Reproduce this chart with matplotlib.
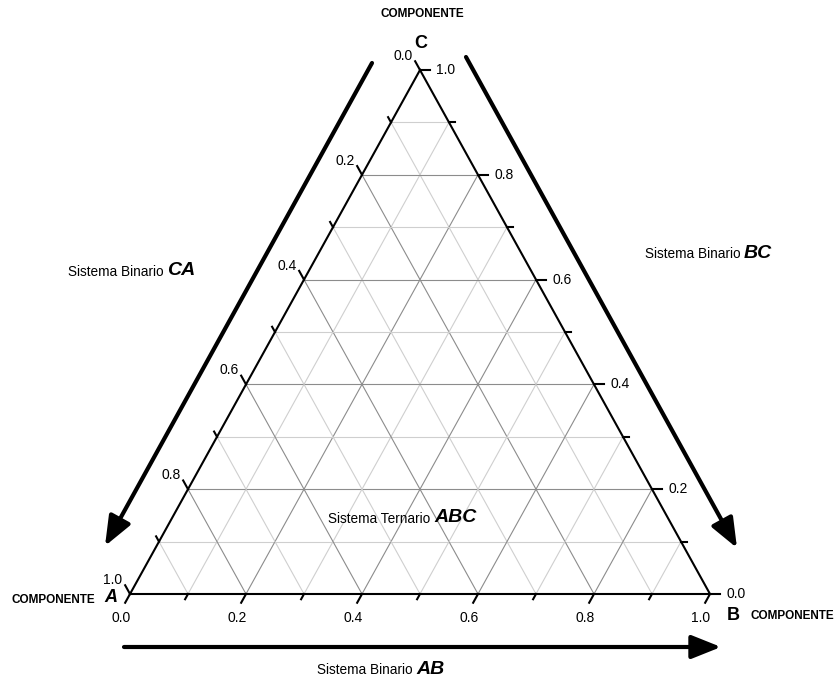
import numpy as np
import matplotlib
matplotlib.use("Agg")
import matplotlib.pyplot as plt

plt.rcParams['font.family'] = ['Liberation Sans', 'DejaVu Sans']

# ---- data ----
tick_values = [0.0, 0.1, 0.2, 0.3, 0.4, 0.5, 0.6, 0.7, 0.8, 0.9, 1.0]
major_values = [0.0, 0.2, 0.4, 0.6, 0.8, 1.0]
major_labels = ['0.0', '0.2', '0.4', '0.6', '0.8', '1.0']
grid_values = [0.1, 0.2, 0.3, 0.4, 0.5, 0.6, 0.7, 0.8, 0.9]
vertex_names = ['A', 'B', 'C']
component_word = 'COMPONENTE'
binary_word = 'Sistema Binario'
ternary_word = 'Sistema Ternario'
system_names = ['CA', 'BC', 'AB', 'ABC']

W, H = 838, 683
fig = plt.figure(figsize=(W / 100, H / 100), dpi=100)
# triangle pixel frame: A=(130,594) B=(710,594) C=(420,70)
x0, x1, yb, yt = 130, 710, 594, 70
ax = fig.add_axes([x0 / W, (H - yb) / H, (x1 - x0) / W, (yb - yt) / H])
ax.set_xlim(0, 1)
ax.set_ylim(0, 1)
ax.axis('off')

sx, sy = x1 - x0, yb - yt
edge_px = np.hypot(0.5 * sx, sy)


def tern(a, b, c):
    return b + c / 2.0, c


def is_major(t):
    return any(abs(t - m) < 1e-9 for m in major_values)


# grid
for t in grid_values:
    col = '#8c8c8c' if is_major(t) else '#cfcfcf'
    # constant B
    p = [tern(1 - t, t, 0), tern(0, t, 1 - t)]
    ax.plot([p[0][0], p[1][0]], [p[0][1], p[1][1]], color=col, lw=0.8, zorder=1)
    # constant C
    p = [tern(1 - t, 0, t), tern(0, 1 - t, t)]
    ax.plot([p[0][0], p[1][0]], [p[0][1], p[1][1]], color=col, lw=0.8, zorder=1)
    # constant A
    p = [tern(t, 1 - t, 0), tern(t, 0, 1 - t)]
    ax.plot([p[0][0], p[1][0]], [p[0][1], p[1][1]], color=col, lw=0.8, zorder=1)

# edges
tri = [tern(1, 0, 0), tern(0, 1, 0), tern(0, 0, 1), tern(1, 0, 0)]
ax.plot([p[0] for p in tri], [p[1] for p in tri], color='black', lw=1.5,
        zorder=3, solid_joinstyle='miter', clip_on=False)

# ticks
for t in tick_values:
    L = 10 if is_major(t) else 6
    # bottom axis (B fraction), ticks toward down-left
    px, py = tern(1 - t, t, 0)
    ax.plot([px, px - 0.5 * L / edge_px], [py, py - L / edge_px],
            color='black', lw=1.5, clip_on=False, zorder=3)
    # right axis (C fraction), ticks horizontal to the right
    px, py = tern(0, 1 - t, t)
    ax.plot([px, px + L / sx], [py, py], color='black', lw=1.5,
            clip_on=False, zorder=3)
    # left axis (A fraction), ticks toward up-left
    px, py = tern(t, 0, 1 - t)
    ax.plot([px, px - 0.5 * L / edge_px], [py, py + L / edge_px],
            color='black', lw=1.5, clip_on=False, zorder=3)

tfs = 10
for t, lab in zip(major_values, major_labels):
    ax.annotate(lab, tern(1 - t, t, 0), xytext=(-9, -24), textcoords='offset pixels',
                ha='center', va='center', fontsize=tfs)
    ax.annotate(lab, tern(0, 1 - t, t), xytext=(16, 0), textcoords='offset pixels',
                ha='left', va='center', fontsize=tfs)
    ax.annotate(lab, tern(t, 0, 1 - t), xytext=(-17, 14), textcoords='offset pixels',
                ha='center', va='center', fontsize=tfs)


def pix(px, py):
    return ((px - x0) / sx, (yb - py) / sy)


# vertex labels
cfs = 8.5
vfs = 13
ax.text(*pix(422, 14), component_word, ha='center', va='center', fontsize=cfs,
        fontweight='bold')
ax.text(*pix(421, 44), vertex_names[2], ha='center', va='center', fontsize=vfs,
        fontweight='bold')
ax.text(*pix(95, 600), component_word, ha='right', va='center', fontsize=cfs,
        fontweight='bold')
ax.text(*pix(111, 598), vertex_names[0], ha='center', va='center', fontsize=vfs,
        fontweight='bold', style='italic')
ax.text(*pix(733, 615), vertex_names[1], ha='center', va='center', fontsize=vfs,
        fontweight='bold')
ax.text(*pix(750, 616), component_word, ha='left', va='center', fontsize=cfs,
        fontweight='bold')

# system labels
sfs = 9.8
bfs = 14


def sys_label(xj, yc, word, name):
    ax.text(*pix(xj, yc), word + ' ', ha='right', va='center', fontsize=sfs)
    ax.text(*pix(xj, yc - 1), name, ha='left', va='center', fontsize=bfs,
            fontweight='bold', style='italic')


sys_label(167, 272, binary_word, system_names[0])
sys_label(744, 254, binary_word, system_names[1])
sys_label(416, 670, binary_word, system_names[2])
sys_label(434, 519, ternary_word, system_names[3])

# arrows
arrow_kw = dict(arrowstyle='-|>,head_length=1.0,head_width=0.4', color='black',
                lw=3, mutation_scale=18, shrinkA=0, shrinkB=0)
for tail, tip in [((372, 63), (105, 546)), ((466, 57), (737, 548)),
                  ((124, 647), (721, 647))]:
    ax.annotate('', xy=pix(*tip), xytext=pix(*tail), arrowprops=arrow_kw,
                annotation_clip=False)

fig.savefig('out.png', dpi=100)
